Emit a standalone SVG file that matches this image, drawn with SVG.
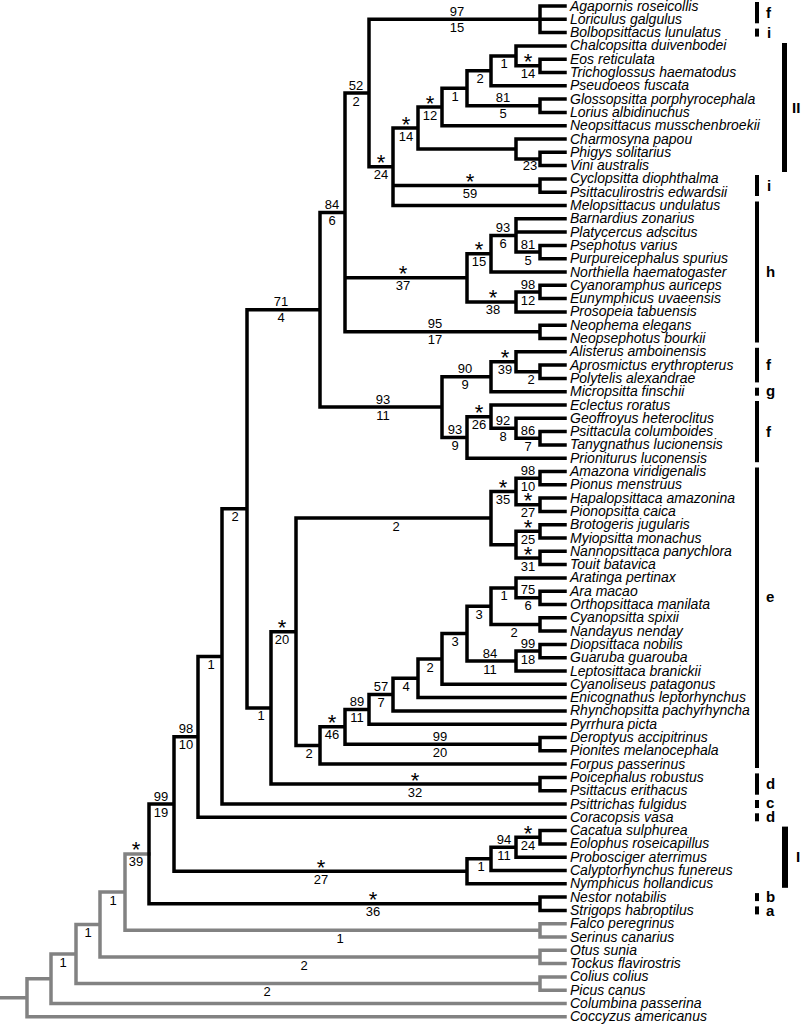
<svg xmlns="http://www.w3.org/2000/svg" width="805" height="1024" viewBox="0 0 805 1024">
<style>
.b{fill:none;stroke:#000;stroke-width:3.5;stroke-linecap:square}
.g{fill:none;stroke:#828282;stroke-width:3.5;stroke-linecap:square}
.t{font-family:"Liberation Sans",Arial,sans-serif;font-style:italic;font-size:14px;fill:#000}
.n{font-family:"Liberation Sans",Arial,sans-serif;font-size:13px;text-anchor:middle;fill:#000}
.s{font-family:"Liberation Sans",Arial,sans-serif;font-size:22px;text-anchor:middle;fill:#000}
.k{font-family:"Liberation Sans",Arial,sans-serif;font-size:15px;font-weight:bold;fill:#000}
.bar{fill:#000}
</style>
<rect width="805" height="1024" fill="#fff"/>
<g id="connectors">
<path class="g" d="M0 997.8H27M27 978.75V1016.8M27 978.75H51M27 1016.8H565M51 954V1003.5M51 1003.5H565M51 954H76M76 924.5V983.55M76 983.55H540M540 976.9V990.2M540 976.9H565M540 990.2H565M76 924.5H100M100 892.1V956.95M100 956.95H540M540 950.3V963.6M540 950.3H565M540 963.6H565M100 892.1H125M125 853.9V930.35M125 930.35H540M540 923.7V937M540 923.7H565M540 937H565M125 853.9H149"/>
<path class="b" d="M149 804.1V903.75M149 903.75H540M540 897.1V910.4M540 897.1H565M540 910.4H565
M149 804.1H174M174 736.85V871.3M174 871.3H467M467 858.85V883.8M467 883.8H565M467 858.85H491M491 847.2V870.5M491 870.5H565M491 847.2H516M516 837.25V857.2M516 857.2H565M516 837.25H540M540 830.6V843.9M540 830.6H565M540 843.9H565
M174 736.85H198M198 656.4V817.3M198 817.3H565M198 656.4H222M222 508.8V804M222 804H565M222 508.8H247M247 309.75V707.9
M247 707.9H271M271 631.75V784.05M271 784.05H540M540 777.4V790.7M540 777.4H565M540 790.7H565
M271 631.75H296M296 518.05V745.45
M296 518.05H491M491 491.45V544.65M491 491.45H516M516 478.15V504.75M516 478.15H540M540 471.5V484.8M540 471.5H565M540 484.8H565M516 504.75H540M540 498.1V511.4M540 498.1H565M540 511.4H565
M491 544.65H516M516 531.35V557.95M516 531.35H540M540 524.7V538M540 524.7H565M540 538H565M516 557.95H540M540 551.3V564.6M540 551.3H565M540 564.6H565
M296 745.45H320M320 726.8V764.1M320 764.1H565M320 726.8H345M345 709.4V744.15M345 744.15H540M540 737.5V750.8M540 737.5H565M540 750.8H565
M345 709.4H369M369 694.6V724.2M369 724.2H565M369 694.6H393M393 678.3V710.9M393 710.9H565M393 678.3H418M418 658.95V697.6M418 697.6H565M418 658.95H442M442 633.6V684.3M442 684.3H565
M442 633.6H467M467 606.2V661M467 606.2H491M491 587.9V624.45M491 587.9H516M516 577.9V597.85M516 577.9H565M516 597.85H540M540 591.2V604.5M540 591.2H565M540 604.5H565M491 624.45H540M540 617.8V631.1M540 617.8H565M540 631.1H565
M467 661H516M516 651.05V671M516 671H565M516 651.05H540M540 644.4V657.7M540 644.4H565M540 657.7H565
M247 309.75H320M320 212.4V407.1
M320 407.1H442M442 376.75V437.4M442 376.75H491M491 361.8V391.7M491 391.7H565M491 361.8H516M516 351.8V371.75M516 351.8H565M516 371.75H540M540 365.1V378.4M540 365.1H565M540 378.4H565
M442 437.4H467M467 416.65V458.2M467 458.2H565M467 416.65H491M491 405V428.3M491 405H565M491 428.3H516M516 418.3V438.25M516 418.3H565M516 438.25H540M540 431.6V444.9M540 431.6H565M540 444.9H565
M320 212.4H345M345 93V331.85M345 331.85H540M540 325.2V338.5M540 325.2H565M540 338.5H565
M345 277.8H467M467 253.7V301.9M467 253.7H491M491 235.4V272M491 272H565M491 235.4H516M516 218.8V252.05M516 218.8H565M516 232.1H565M516 252.05H540M540 245.4V258.7M540 245.4H565M540 258.7H565
M467 301.9H516M516 291.95V311.9M516 311.9H565M516 291.95H540M540 285.3V298.6M540 285.3H565M540 298.6H565
M345 93H369M369 19.3V166.75M369 19.3H540M540 6V32.6M540 6H565M540 19.3H565M540 32.6H565
M369 166.75H393M393 128V205.5M393 205.5H565M393 185.55H540M540 178.9V192.2M540 178.9H565M540 192.2H565
M393 128H418M418 107V148.98M418 148.98H516M516 139V158.95M516 139H565M516 158.95H540M540 152.3V165.6M540 152.3H565M540 165.6H565
M418 107H442M442 88.3V125.7M442 125.7H565M442 88.3H467M467 70.85V105.75M467 105.75H540M540 99.1V112.4M540 99.1H565M540 112.4H565
M467 70.85H491M491 55.9V85.8M491 85.8H565M491 55.9H516M516 45.9V65.85M516 45.9H565M516 65.85H540M540 59.2V72.5M540 59.2H565M540 72.5H565"/>
</g>
<g id="nA"><text class="n" x="457" y="15.8">97</text><text class="n" x="457" y="31.8">15</text></g>
<g id="nB"><text class="n" x="356" y="89.5">52</text><text class="n" x="356" y="105.5">2</text></g>
<g id="nC"><text class="s" x="381" y="170.3">*</text><text class="n" x="381" y="179.3">24</text></g>
<g id="nD"><text class="s" x="406" y="131.5">*</text><text class="n" x="406" y="140.5">14</text></g>
<g id="nE"><text class="s" x="430" y="110.5">*</text><text class="n" x="430" y="119.5">12</text></g>
<g id="nF"><text class="n" x="455" y="100.8">1</text></g>
<g id="nG"><text class="n" x="480" y="83.4">2</text></g>
<g id="nI"><text class="n" x="504" y="68.4">1</text></g>
<g id="nH"><text class="s" x="528" y="69.4">*</text><text class="n" x="528" y="78.4">14</text></g>
<g id="nGL"><text class="n" x="503" y="102.3">81</text><text class="n" x="503" y="118.3">5</text></g>
<g id="nK"><text class="n" x="530" y="170">23</text></g>
<g id="nCY"><text class="s" x="470" y="189">*</text><text class="n" x="470" y="198">59</text></g>
<g id="nL"><text class="n" x="332" y="208.9">84</text><text class="n" x="332" y="224.9">6</text></g>
<g id="nN"><text class="s" x="403" y="281.3">*</text><text class="n" x="403" y="290.3">37</text></g>
<g id="nP"><text class="s" x="479" y="257.2">*</text><text class="n" x="479" y="266.2">15</text></g>
<g id="nR"><text class="n" x="503" y="231.9">93</text><text class="n" x="503" y="247.9">6</text></g>
<g id="nPS"><text class="n" x="528" y="248.6">81</text><text class="n" x="528" y="264.6">5</text></g>
<g id="nT"><text class="s" x="493" y="305.4">*</text><text class="n" x="493" y="314.4">38</text></g>
<g id="nS"><text class="n" x="528" y="288.5">98</text><text class="n" x="528" y="304.5">12</text></g>
<g id="nO"><text class="n" x="435" y="328.4">95</text><text class="n" x="435" y="344.4">17</text></g>
<g id="nM"><text class="n" x="281" y="306.3">71</text><text class="n" x="281" y="322.3">4</text></g>
<g id="nU"><text class="n" x="383" y="403.6">93</text><text class="n" x="383" y="419.6">11</text></g>
<g id="nX"><text class="n" x="465" y="373.3">90</text><text class="n" x="465" y="389.3">9</text></g>
<g id="nW"><text class="s" x="505" y="365.3">*</text><text class="n" x="505" y="374.3">39</text></g>
<g id="nV"><text class="n" x="531" y="384.3">2</text></g>
<g id="nAB"><text class="n" x="455" y="433.9">93</text><text class="n" x="455" y="449.9">9</text></g>
<g id="nAA"><text class="s" x="479" y="420.2">*</text><text class="n" x="479" y="429.2">26</text></g>
<g id="nZ"><text class="n" x="503" y="424.8">92</text><text class="n" x="503" y="440.8">8</text></g>
<g id="nY"><text class="n" x="528" y="434.8">86</text><text class="n" x="528" y="450.8">7</text></g>
<g id="nAC"><text class="n" x="235" y="521.3">2</text></g>
<g id="nAD"><text class="n" x="261" y="720.4">1</text></g>
<g id="nAE"><text class="s" x="282" y="635.3">*</text><text class="n" x="282" y="644.3">20</text></g>
<g id="nAP"><text class="n" x="396" y="530.6">2</text></g>
<g id="nAO"><text class="s" x="503" y="495">*</text><text class="n" x="503" y="504">35</text></g>
<g id="nAM1"><text class="n" x="528" y="474.7">98</text><text class="n" x="528" y="490.7">10</text></g>
<g id="nAM2"><text class="s" x="528" y="508.3">*</text><text class="n" x="528" y="517.3">27</text></g>
<g id="nBR"><text class="s" x="528" y="534.9">*</text><text class="n" x="528" y="543.9">25</text></g>
<g id="nNT"><text class="s" x="528" y="561.5">*</text><text class="n" x="528" y="570.5">31</text></g>
<g id="nAS"><text class="n" x="504" y="600.4">1</text></g>
<g id="nAR2"><text class="n" x="528" y="594.4">75</text><text class="n" x="528" y="610.4">6</text></g>
<g id="nCN"><text class="n" x="514" y="637">2</text></g>
<g id="nAT"><text class="n" x="479" y="618.7">3</text></g>
<g id="nAV"><text class="n" x="490" y="657.5">84</text><text class="n" x="490" y="673.5">11</text></g>
<g id="nDG"><text class="n" x="528" y="647.6">99</text><text class="n" x="528" y="663.6">18</text></g>
<g id="nAU"><text class="n" x="455" y="646.1">3</text></g>
<g id="nAW"><text class="n" x="430" y="671.5">2</text></g>
<g id="nN4"><text class="n" x="406" y="690.8">4</text></g>
<g id="nN57"><text class="n" x="381" y="691.1">57</text><text class="n" x="381" y="707.1">7</text></g>
<g id="nN89"><text class="n" x="357" y="705.9">89</text><text class="n" x="357" y="721.9">11</text></g>
<g id="nAR"><text class="s" x="332" y="730.3">*</text><text class="n" x="332" y="739.3">46</text></g>
<g id="nDP"><text class="n" x="440" y="740.7">99</text><text class="n" x="440" y="756.7">20</text></g>
<g id="nN2"><text class="n" x="309" y="758">2</text></g>
<g id="nPO"><text class="s" x="415" y="787.6">*</text><text class="n" x="415" y="796.6">32</text></g>
<g id="nAG"><text class="n" x="211" y="668.9">1</text></g>
<g id="nAH"><text class="n" x="186" y="733.4">98</text><text class="n" x="186" y="749.4">10</text></g>
<g id="nAI"><text class="n" x="161" y="800.6">99</text><text class="n" x="161" y="816.6">19</text></g>
<g id="nBB"><text class="s" x="321" y="874.8">*</text><text class="n" x="321" y="883.8">27</text></g>
<g id="nBA"><text class="n" x="481" y="871.4">1</text></g>
<g id="nAZ"><text class="n" x="504" y="843.7">94</text><text class="n" x="504" y="859.7">11</text></g>
<g id="nCE"><text class="s" x="528" y="840.8">*</text><text class="n" x="528" y="849.8">24</text></g>
<g id="nNE"><text class="s" x="373" y="907.3">*</text><text class="n" x="373" y="916.3">36</text></g>
<g id="nAJ"><text class="s" x="136" y="857.4">*</text><text class="n" x="136" y="866.4">39</text></g>
<g id="nAK"><text class="n" x="113" y="904.6">1</text></g>
<g id="nAL"><text class="n" x="88" y="937">1</text></g>
<g id="nAM"><text class="n" x="63" y="966.5">1</text></g>
<g id="nFA"><text class="n" x="340" y="942.9">1</text></g>
<g id="nOT"><text class="n" x="304" y="969.5">2</text></g>
<g id="nCO"><text class="n" x="267" y="996.1">2</text></g>
<g id="t01"><text class="t" x="570" y="10.5">Agapornis roseicollis</text></g>
<g id="t02"><text class="t" x="570" y="23.8">Loriculus galgulus</text></g>
<g id="t03"><text class="t" x="570" y="37.1">Bolbopsittacus lunulatus</text></g>
<g id="t04"><text class="t" x="570" y="50.4">Chalcopsitta duivenbodei</text></g>
<g id="t05"><text class="t" x="570" y="63.7">Eos reticulata</text></g>
<g id="t06"><text class="t" x="570" y="77">Trichoglossus haematodus</text></g>
<g id="t07"><text class="t" x="570" y="90.3">Pseudoeos fuscata</text></g>
<g id="t08"><text class="t" x="570" y="103.6">Glossopsitta porphyrocephala</text></g>
<g id="t09"><text class="t" x="570" y="116.9">Lorius albidinuchus</text></g>
<g id="t10"><text class="t" x="570" y="130.2">Neopsittacus musschenbroekii</text></g>
<g id="t11"><text class="t" x="570" y="143.5">Charmosyna papou</text></g>
<g id="t12"><text class="t" x="570" y="156.8">Phigys solitarius</text></g>
<g id="t13"><text class="t" x="570" y="170.1">Vini australis</text></g>
<g id="t14"><text class="t" x="570" y="183.4">Cyclopsitta diophthalma</text></g>
<g id="t15"><text class="t" x="570" y="196.7">Psittaculirostris edwardsii</text></g>
<g id="t16"><text class="t" x="570" y="210">Melopsittacus undulatus</text></g>
<g id="t17"><text class="t" x="570" y="223.3">Barnardius zonarius</text></g>
<g id="t18"><text class="t" x="570" y="236.6">Platycercus adscitus</text></g>
<g id="t19"><text class="t" x="570" y="249.9">Psephotus varius</text></g>
<g id="t20"><text class="t" x="570" y="263.2">Purpureicephalus spurius</text></g>
<g id="t21"><text class="t" x="570" y="276.5">Northiella haematogaster</text></g>
<g id="t22"><text class="t" x="570" y="289.8">Cyanoramphus auriceps</text></g>
<g id="t23"><text class="t" x="570" y="303.1">Eunymphicus uvaeensis</text></g>
<g id="t24"><text class="t" x="570" y="316.4">Prosopeia tabuensis</text></g>
<g id="t25"><text class="t" x="570" y="329.7">Neophema elegans</text></g>
<g id="t26"><text class="t" x="570" y="343">Neopsephotus bourkii</text></g>
<g id="t27"><text class="t" x="570" y="356.3">Alisterus amboinensis</text></g>
<g id="t28"><text class="t" x="570" y="369.6">Aprosmictus erythropterus</text></g>
<g id="t29"><text class="t" x="570" y="382.9">Polytelis alexandrae</text></g>
<g id="t30"><text class="t" x="570" y="396.2">Micropsitta finschii</text></g>
<g id="t31"><text class="t" x="570" y="409.5">Eclectus roratus</text></g>
<g id="t32"><text class="t" x="570" y="422.8">Geoffroyus heteroclitus</text></g>
<g id="t33"><text class="t" x="570" y="436.1">Psittacula columboides</text></g>
<g id="t34"><text class="t" x="570" y="449.4">Tanygnathus lucionensis</text></g>
<g id="t35"><text class="t" x="570" y="462.7">Prioniturus luconensis</text></g>
<g id="t36"><text class="t" x="570" y="476">Amazona viridigenalis</text></g>
<g id="t37"><text class="t" x="570" y="489.3">Pionus menstruus</text></g>
<g id="t38"><text class="t" x="570" y="502.6">Hapalopsittaca amazonina</text></g>
<g id="t39"><text class="t" x="570" y="515.9">Pionopsitta caica</text></g>
<g id="t40"><text class="t" x="570" y="529.2">Brotogeris jugularis</text></g>
<g id="t41"><text class="t" x="570" y="542.5">Myiopsitta monachus</text></g>
<g id="t42"><text class="t" x="570" y="555.8">Nannopsittaca panychlora</text></g>
<g id="t43"><text class="t" x="570" y="569.1">Touit batavica</text></g>
<g id="t44"><text class="t" x="570" y="582.4">Aratinga pertinax</text></g>
<g id="t45"><text class="t" x="570" y="595.7">Ara macao</text></g>
<g id="t46"><text class="t" x="570" y="609">Orthopsittaca manilata</text></g>
<g id="t47"><text class="t" x="570" y="622.3">Cyanopsitta spixii</text></g>
<g id="t48"><text class="t" x="570" y="635.6">Nandayus nenday</text></g>
<g id="t49"><text class="t" x="570" y="648.9">Diopsittaca nobilis</text></g>
<g id="t50"><text class="t" x="570" y="662.2">Guaruba guarouba</text></g>
<g id="t51"><text class="t" x="570" y="675.5">Leptosittaca branickii</text></g>
<g id="t52"><text class="t" x="570" y="688.8">Cyanoliseus patagonus</text></g>
<g id="t53"><text class="t" x="570" y="702.1">Enicognathus leptorhynchus</text></g>
<g id="t54"><text class="t" x="570" y="715.4">Rhynchopsitta pachyrhyncha</text></g>
<g id="t55"><text class="t" x="570" y="728.7">Pyrrhura picta</text></g>
<g id="t56"><text class="t" x="570" y="742">Deroptyus accipitrinus</text></g>
<g id="t57"><text class="t" x="570" y="755.3">Pionites melanocephala</text></g>
<g id="t58"><text class="t" x="570" y="768.6">Forpus passerinus</text></g>
<g id="t59"><text class="t" x="570" y="781.9">Poicephalus robustus</text></g>
<g id="t60"><text class="t" x="570" y="795.2">Psittacus erithacus</text></g>
<g id="t61"><text class="t" x="570" y="808.5">Psittrichas fulgidus</text></g>
<g id="t62"><text class="t" x="570" y="821.8">Coracopsis vasa</text></g>
<g id="t63"><text class="t" x="570" y="835.1">Cacatua sulphurea</text></g>
<g id="t64"><text class="t" x="570" y="848.4">Eolophus roseicapillus</text></g>
<g id="t65"><text class="t" x="570" y="861.7">Probosciger aterrimus</text></g>
<g id="t66"><text class="t" x="570" y="875">Calyptorhynchus funereus</text></g>
<g id="t67"><text class="t" x="570" y="888.3">Nymphicus hollandicus</text></g>
<g id="t68"><text class="t" x="570" y="901.6">Nestor notabilis</text></g>
<g id="t69"><text class="t" x="570" y="914.9">Strigops habroptilus</text></g>
<g id="t70"><text class="t" x="570" y="928.2">Falco peregrinus</text></g>
<g id="t71"><text class="t" x="570" y="941.5">Serinus canarius</text></g>
<g id="t72"><text class="t" x="570" y="954.8">Otus sunia</text></g>
<g id="t73"><text class="t" x="570" y="968.1">Tockus flavirostris</text></g>
<g id="t74"><text class="t" x="570" y="981.4">Colius colius</text></g>
<g id="t75"><text class="t" x="570" y="994.7">Picus canus</text></g>
<g id="t76"><text class="t" x="570" y="1008">Columbina passerina</text></g>
<g id="t77"><text class="t" x="570" y="1021.3">Coccyzus americanus</text></g>
<g id="br-f1"><rect class="bar" x="755" y="2" width="4" height="21.3"/><text class="k" x="766" y="18">f</text></g>
<g id="br-i1"><rect class="bar" x="755" y="28.6" width="4" height="8"/><text class="k" x="767" y="38">i</text></g>
<g id="br-II"><rect class="bar" x="782" y="43" width="5" height="129"/><text class="k" x="792" y="113">II</text></g>
<g id="br-i2"><rect class="bar" x="755" y="175" width="4" height="21"/><text class="k" x="767" y="191">i</text></g>
<g id="br-h"><rect class="bar" x="755" y="201.5" width="4" height="141"/><text class="k" x="766" y="277">h</text></g>
<g id="br-f2"><rect class="bar" x="755" y="347.8" width="4" height="34.6"/><text class="k" x="766" y="370">f</text></g>
<g id="br-g"><rect class="bar" x="755" y="387.7" width="4" height="8"/><text class="k" x="766" y="396">g</text></g>
<g id="br-f3"><rect class="bar" x="755" y="401" width="4" height="61.2"/><text class="k" x="766" y="437">f</text></g>
<g id="br-e"><rect class="bar" x="755" y="467.5" width="4" height="300.5"/><text class="k" x="766" y="602">e</text></g>
<g id="br-d1"><rect class="bar" x="755" y="773.4" width="4" height="21.3"/><text class="k" x="766" y="789">d</text></g>
<g id="br-c"><rect class="bar" x="755" y="800" width="4" height="8"/><text class="k" x="766" y="808">c</text></g>
<g id="br-d2"><rect class="bar" x="755" y="813.3" width="4" height="8"/><text class="k" x="766" y="822">d</text></g>
<g id="br-I"><rect class="bar" x="782" y="826.6" width="6" height="61.2"/><text class="k" x="796" y="862">I</text></g>
<g id="br-b"><rect class="bar" x="755" y="893.1" width="4" height="8"/><text class="k" x="766" y="902">b</text></g>
<g id="br-a"><rect class="bar" x="755" y="906.4" width="4" height="8"/><text class="k" x="766" y="916">a</text></g>
</svg>
